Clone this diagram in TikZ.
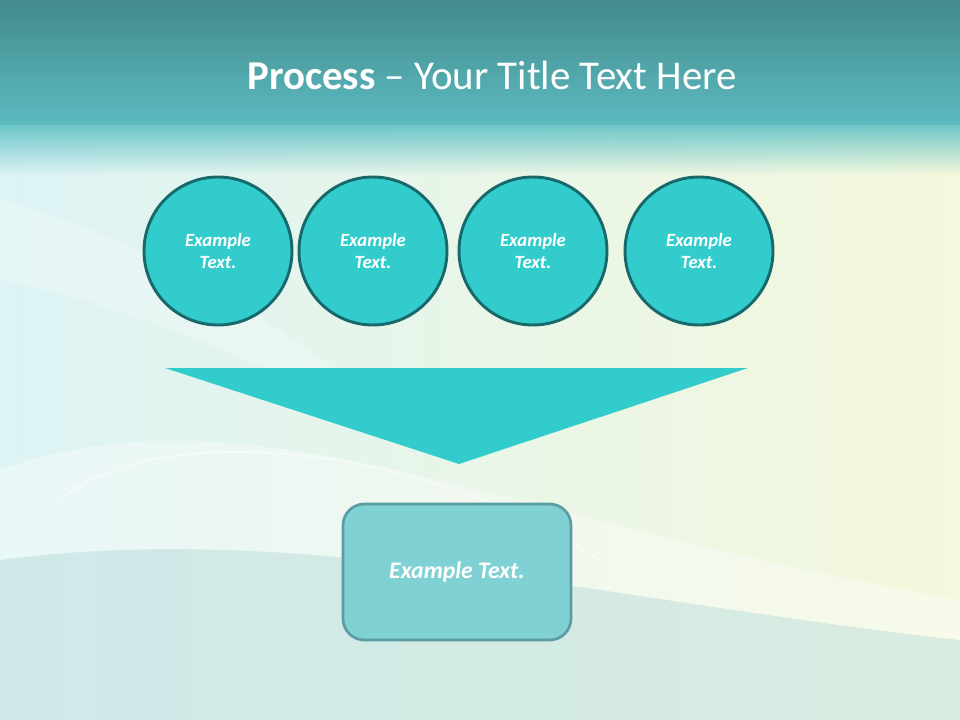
\documentclass[tikz,border=0pt]{standalone}
\usepackage{fontspec}
\setmainfont{Carlito}
\usetikzlibrary{shapes.geometric,fadings}
\definecolor{topdark}{HTML}{438A8C}
\definecolor{topmid}{HTML}{5CBBC0}
\definecolor{bandlow}{HTML}{62C2C6}
\definecolor{bgleft}{HTML}{DDF3F4}
\definecolor{bgright}{HTML}{F4F8DC}
\definecolor{bgbottom}{HTML}{C6E3E3}
\definecolor{tealfill}{HTML}{33CCCC}
\definecolor{tealedge}{HTML}{17696B}
\definecolor{boxfill}{HTML}{7FD1D4}
\definecolor{boxedge}{HTML}{5A9CA1}
\tikzset{
  stepcircle/.style={circle, fill=tealfill, draw=tealedge, line width=2.2pt,
    minimum size=111pt, inner sep=0pt, text=white, align=center,
    font=\fontsize{14}{17}\selectfont\bfseries\itshape},
  resultbox/.style={rectangle, rounded corners=16pt, fill=boxfill, draw=boxedge,
    line width=2pt, minimum width=171pt, minimum height=102pt, text=white,
    font=\fontsize{17.8}{21}\selectfont\bfseries\itshape},
  funnel/.style={fill=tealfill, draw=none},
  titletext/.style={text=white, font=\fontsize{30.7}{36}\selectfont}
}
\begin{document}
\begin{tikzpicture}[x=0.75pt,y=-0.75pt]
\useasboundingbox (0,0) rectangle (960,720);
% background
\shade[left color=bgleft, right color=bgright] (0,120) rectangle (960,720);
\fill[bgbottom, opacity=0.6] (0,560) .. controls (300,520) and (600,600) .. (960,640) -- (960,720) -- (0,720) -- cycle;
\fill[white, opacity=0.35] (0,470) .. controls (250,380) and (500,520) .. (960,600) -- (960,640) .. controls (600,600) and (300,520) .. (0,560) -- cycle;
\fill[white, opacity=0.25] (0,200) .. controls (150,240) and (300,330) .. (420,440) .. controls (300,380) and (120,300) .. (0,280) -- cycle;
\draw[white, opacity=0.5, line width=1.2pt] (60,500) .. controls (150,420) and (420,440) .. (600,560);
\fill[bandlow, path fading=south] (0,120) rectangle (960,175);
\shade[top color=topdark, bottom color=topmid] (0,0) rectangle (960,125);
% title
\node[titletext] (title) at (492,75) {\textbf{Process} – Your Title Text Here};
% circles
\node[stepcircle] (c1) at (218,251) {Example\\Text.};
\node[stepcircle] (c2) at (373,251) {Example\\Text.};
\node[stepcircle] (c3) at (533,251) {Example\\Text.};
\node[stepcircle] (c4) at (699,251) {Example\\Text.};
% funnel
\coordinate (fl) at (165,368);
\coordinate (fr) at (748,368);
\coordinate (fb) at (459,464);
\fill[funnel] (fl) -- (fr) -- (fb) -- cycle;
% result box
\node[resultbox] (res) at (457,572) {Example Text.};
\end{tikzpicture}
\end{document}
